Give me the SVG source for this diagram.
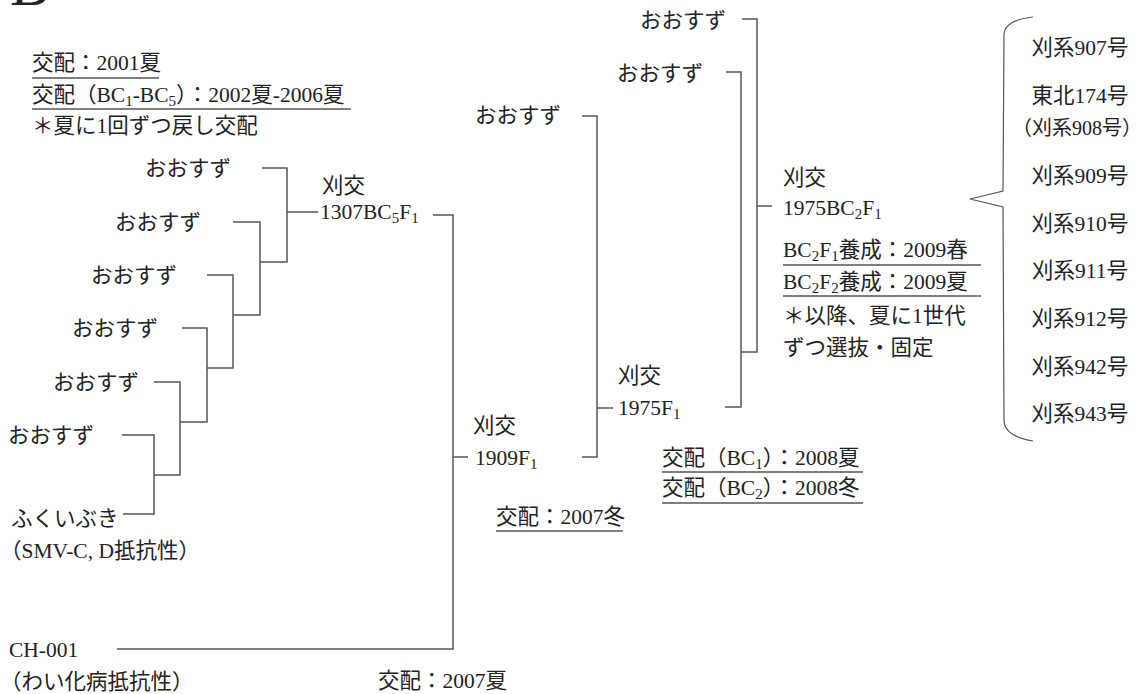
<svg xmlns="http://www.w3.org/2000/svg" width="1144" height="694" viewBox="0 0 1144 694">
<style>
text{font-family:"Liberation Serif","Noto Sans CJK JP",serif;font-size:21.5px;fill:#222}
.e{text-anchor:end}
.m{text-anchor:middle}
.ln{stroke:#555;stroke-width:1.5;fill:none}
.ul{stroke:#555;stroke-width:1.3;fill:none}
.sub{font-size:15px}
</style>
<rect width="1144" height="694" fill="#fff"/>
<text x="10" y="5" style="font-size:60px">B</text>

<g id="note-top-left">
<text x="32" y="70">交配：2001夏</text>
<text x="32" y="102">交配（BC<tspan class="sub" dy="4">1</tspan><tspan dy="-4">-BC</tspan><tspan class="sub" dy="4">5</tspan><tspan dy="-4">）：2002夏-2006夏</tspan></text>
<text x="32" y="133">＊夏に1回ずつ戻し交配</text>
<path class="ul" d="M32,78H159M32,109H351"/>
</g>

<g id="p-oosuzu-1"><text class="e" x="231" y="176">おおすず</text></g>
<g id="p-oosuzu-2"><text class="e" x="201" y="230">おおすず</text></g>
<g id="p-oosuzu-3"><text class="e" x="177" y="283">おおすず</text></g>
<g id="p-oosuzu-4"><text class="e" x="158" y="336">おおすず</text></g>
<g id="p-oosuzu-5"><text class="e" x="139" y="390">おおすず</text></g>
<g id="p-oosuzu-6"><text class="e" x="94" y="443">おおすず</text></g>
<g id="p-fukuibuki">
<text x="11" y="526">ふくいぶき</text>
<text x="0" y="558">（SMV-C, D抵抗性）</text>
</g>
<g id="p-ch001">
<text x="9" y="657">CH-001</text>
<text x="0" y="689">（わい化病抵抗性）</text>
</g>

<g id="n-1307">
<text x="322" y="193">刈交</text>
<text x="320" y="219">1307BC<tspan class="sub" dy="4">5</tspan><tspan dy="-4">F</tspan><tspan class="sub" dy="4">1</tspan></text>
</g>

<g id="n-1909">
<text x="473" y="433">刈交</text>
<text x="475" y="465">1909F<tspan class="sub" dy="4">1</tspan></text>
</g>
<g id="note-2007w">
<text x="496" y="524">交配：2007冬</text>
<path class="ul" d="M496,531H623"/>
</g>
<g id="note-2007s"><text x="378" y="688">交配：2007夏</text></g>

<g id="p-oosuzu-7"><text class="e" x="561" y="123">おおすず</text></g>
<g id="p-oosuzu-8"><text class="e" x="703" y="81">おおすず</text></g>
<g id="p-oosuzu-9"><text class="e" x="726" y="28">おおすず</text></g>

<g id="n-1975">
<text x="618" y="383">刈交</text>
<text x="618" y="415">1975F<tspan class="sub" dy="4">1</tspan></text>
</g>
<g id="note-2008">
<text x="662" y="465">交配（BC<tspan class="sub" dy="4">1</tspan><tspan dy="-4">）：2008夏</tspan></text>
<text x="662" y="495">交配（BC<tspan class="sub" dy="4">2</tspan><tspan dy="-4">）：2008冬</tspan></text>
<path class="ul" d="M662,472H863M662,503H863"/>
</g>

<g id="n-1975bc2">
<text x="783" y="185">刈交</text>
<text x="783" y="215">1975BC<tspan class="sub" dy="4">2</tspan><tspan dy="-4">F</tspan><tspan class="sub" dy="4">1</tspan></text>
</g>
<g id="note-2009">
<text x="783" y="257">BC<tspan class="sub" dy="4">2</tspan><tspan dy="-4">F</tspan><tspan class="sub" dy="4">1</tspan><tspan dy="-4">養成：2009春</tspan></text>
<text x="783" y="289">BC<tspan class="sub" dy="4">2</tspan><tspan dy="-4">F</tspan><tspan class="sub" dy="4">2</tspan><tspan dy="-4">養成：2009夏</tspan></text>
<text x="783" y="323">＊以降、夏に1世代</text>
<text x="783" y="355">ずつ選抜・固定</text>
<path class="ul" d="M783,265H981M783,296H981"/>
</g>

<g id="lines-out">
<text class="m" x="1080" y="55">刈系907号</text>
<text class="m" x="1080" y="103">東北174号</text>
<text class="e" x="1142" y="135" style="font-size:20px">（刈系908号）</text>
<text class="m" x="1080" y="183">刈系909号</text>
<text class="m" x="1080" y="231">刈系910号</text>
<text class="m" x="1080" y="278">刈系911号</text>
<text class="m" x="1080" y="326">刈系912号</text>
<text class="m" x="1080" y="374">刈系942号</text>
<text class="m" x="1080" y="421">刈系943号</text>
</g>

<g id="connectors">
<path class="ln" d="M262,168H287V262H260M233,222H260V315H233M207,275H233V368H207M182,328H207V422H180M154,382H180V475H154M122,435H154V514H123"/>
<path class="ln" d="M287,212H318"/>
<path class="ln" d="M433,215H453V649H117M453,457H468"/>
<path class="ln" d="M582,457H597V116H582M597,408H613"/>
<path class="ln" d="M725,407H741V72H726M741,352H757V19H742M757,206H772"/>
<path class="ln" d="M1033,17C1015,19 1004,24 1004,35L1003,191L970,199L1003,207L1004,420C1004,432 1015,438 1033,441" style="stroke-width:1.2"/>
</g>
</svg>
